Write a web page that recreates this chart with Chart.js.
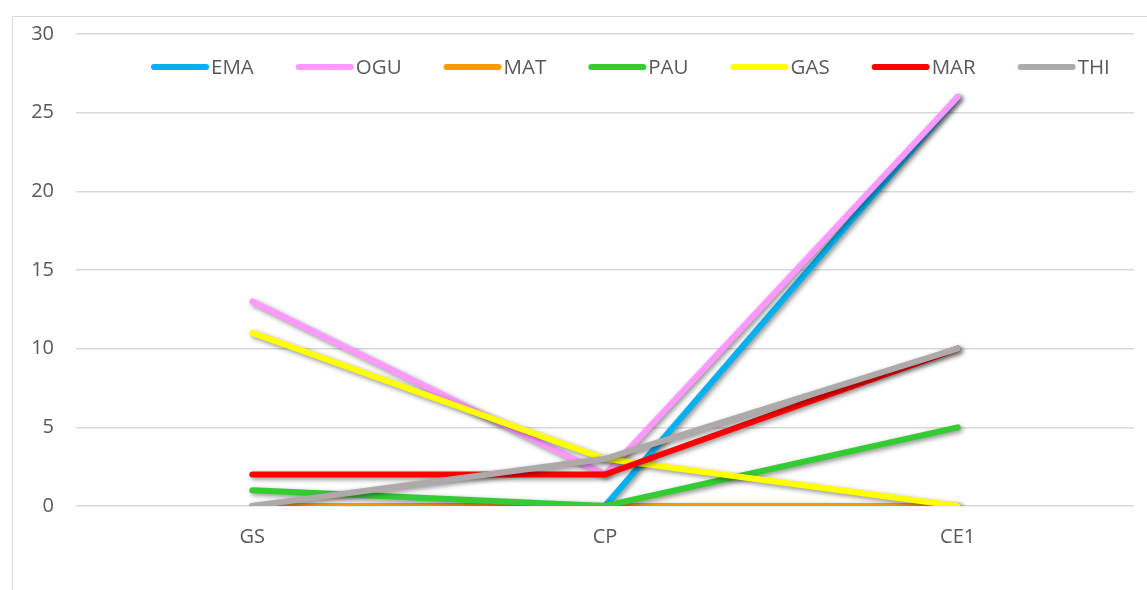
<!DOCTYPE html>
<html>
<head>
<meta charset="utf-8">
<script src="https://cdn.jsdelivr.net/npm/chart.js@4"></script>
<style>
  html, body { margin: 0; padding: 0; background: #fff; overflow: hidden; }
  #wrap { position: relative; width: 1147px; height: 590px; }
  #frame { position: absolute; left: 12px; top: 16px; width: 1200px; height: 600px; border: 1px solid #d9d9d9; }
  canvas { position: absolute; left: 0; top: 0; }
</style>
</head>
<body>
<div id="wrap">
  <div id="frame"></div>
  <canvas id="lineChart" width="1147" height="590"></canvas>
</div>
<script>
// Chart data
const categories = ['GS', 'CP', 'CE1'];
const yTicks = [0, 5, 10, 15, 20, 25, 30];

const ema = [null, 0, 26];
const ogu = [13, 2, 26];
const mat = [0, 0, 0];
const pau = [1, 0, 5];
const gas = [11, 3, 0];
const mar = [2, 2, 10];
const thi = [0, 3, 10];

const seriesNames = ['EMA', 'OGU', 'MAT', 'PAU', 'GAS', 'MAR', 'THI'];
const seriesValues = [ema, ogu, mat, pau, gas, mar, thi];
const seriesColors = ['#00b0f0', '#ff99ff', '#ff9900', '#33cc33', '#ffff00', '#ff0000', '#aeaaaa'];

const FONT = '"Open Sans", sans-serif';
const TEXT = '#595959';

// Soft drop shadow under each line, like the original
const shadowPlugin = {
    id: 'lineShadow',
    beforeDatasetDraw(chart) {
        const ctx = chart.ctx;
        ctx.save();
        ctx.shadowColor = 'rgba(0,0,0,0.45)';
        ctx.shadowBlur = 5;
        ctx.shadowOffsetX = 2;
        ctx.shadowOffsetY = 2;
    },
    afterDatasetDraw(chart) {
        chart.ctx.restore();
    }
};

// Legend drawn inside the plot area
const innerLegend = {
    id: 'innerLegend',
    afterDraw(chart) {
        const ctx = chart.ctx;
        const area = chart.chartArea;
        let x = area.left + 75;
        const y = area.top + 33;
        ctx.save();
        ctx.font = '20.5px ' + FONT;
        ctx.textBaseline = 'middle';
        chart.data.datasets.forEach(ds => {
            ctx.strokeStyle = ds.borderColor;
            ctx.lineWidth = 6;
            ctx.lineCap = 'round';
            ctx.beginPath();
            ctx.moveTo(x + 3, y);
            ctx.lineTo(x + 55, y);
            ctx.stroke();
            ctx.fillStyle = TEXT;
            ctx.fillText(ds.label, x + 60, y + 1);
            x += 60 + ctx.measureText(ds.label).width + 42;
        });
        ctx.restore();
    }
};

document.addEventListener('DOMContentLoaded', function() {
    const ctx = document.getElementById('lineChart').getContext('2d');
    const datasets = seriesNames.map((name, i) => ({
        label: name,
        data: seriesValues[i],
        borderColor: seriesColors[i],
        backgroundColor: seriesColors[i],
        borderWidth: 6,
        borderCapStyle: 'round',
        borderJoinStyle: 'round',
        pointRadius: 0,
        pointHoverRadius: 0,
        tension: 0,
        spanGaps: false,
        order: seriesNames.length - i
    }));

    new Chart(ctx, {
        type: 'line',
        data: { labels: categories, datasets: datasets },
        plugins: [shadowPlugin, innerLegend],
        options: {
            responsive: false,
            animation: false,
            layout: { padding: { top: 33, right: 13, bottom: 34, left: 0 } },
            plugins: {
                legend: { display: false },
                tooltip: { enabled: false }
            },
            scales: {
                x: {
                    offset: true,
                    grid: { display: false, drawTicks: false },
                    border: { display: false },
                    ticks: { color: TEXT, font: { family: FONT, size: 20 }, padding: 19 },
                    afterFit(scale) { scale.height = 50; }
                },
                y: {
                    min: 0,
                    max: 30,
                    afterBuildTicks(scale) { scale.ticks = yTicks.map(v => ({ value: v })); },
                    grid: { color: '#d9d9d9', lineWidth: 1.5, drawTicks: false },
                    border: { display: false },
                    ticks: { color: TEXT, font: { family: FONT, size: 20 }, padding: 22 },
                    afterFit(scale) { scale.width = 76; }
                }
            }
        }
    });
});
</script>
</body>
</html>
